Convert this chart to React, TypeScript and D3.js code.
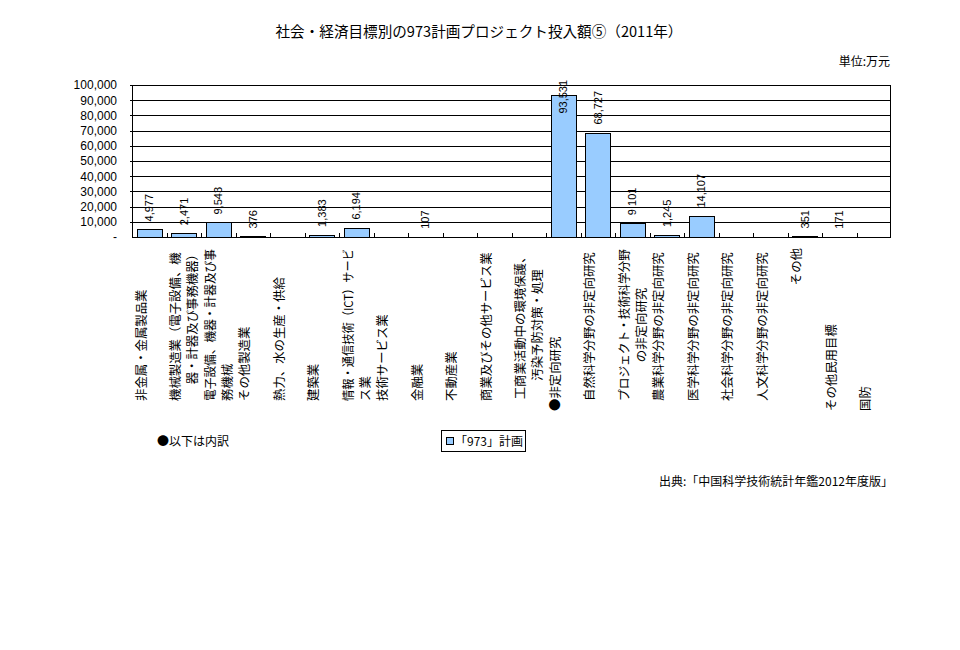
import * as d3 from 'd3';
import React, { useEffect, useRef } from 'react';

const title = '社会・経済目標別の973計画プロジェクト投入額⑤（2011年）';
const unitLabel = '単位:万元';
const sourceLabel = '出典:「中国科学技術統計年鑑2012年度版」';
const noteLabel = '●以下は内訳';
const seriesName = '「973」計画';

// category labels, '\n' = line break in the axis label
const categories = [
  '非金属・金属製品業',
  '機械製造業（電子設備、機\n器・計器及び事務機器）',
  '電子設備、機器・計器及び事\n務機械',
  'その他製造業',
  '熱力、水の生産・供給',
  '建築業',
  '情報・通信技術（ICT）サービ\nス業',
  '技術サービス業',
  '金融業',
  '不動産業',
  '商業及びその他サービス業',
  '工商業活動中の環境保護、\n汚染予防対策・処理',
  '●非定向研究',
  '自然科学分野の非定向研究',
  'プロジェクト・技術科学分野\nの非定向研究',
  '農業科学分野の非定向研究',
  '医学科学分野の非定向研究',
  '社会科学分野の非定向研究',
  '人文科学分野の非定向研究',
  'その他',
  'その他民用目標',
  '国防',
];

// 万元, null = no bar
const values: (number | null)[] = [
  4977, 2471, 9543, 376, null, 1383, 6194, null, 107, null, null, null,
  93531, 68727, 9101, 1245, 14107, null, null, 351, 171, null,
];

const yTicks = [0, 10000, 20000, 30000, 40000, 50000, 60000, 70000, 80000, 90000, 100000];

// how each label line sits along the vertical axis: s = from bottom, S = from lower bottom, e = to top, m = middle
const labelAlign = [
  ['s'], ['s', 'e'], ['s', 's'], ['s'], ['s'], ['s'], ['s', 's'], ['s'], ['s'], ['s'], ['s'],
  ['m', 'm'], ['S'], ['s'], ['m', 'm'], ['s'], ['s'], ['s'], ['s'], ['e'], ['S'], ['S'],
];

const JP = '"Noto Sans CJK JP", sans-serif';
const NUM = '"Liberation Sans", Arial, sans-serif';

const App: React.FC = () => {
  const svgRef = useRef(null);

  useEffect(() => {
    const svg = d3.select(svgRef.current);
    svg.selectAll('*').remove();

    const left = 132;
    const right = 891;
    const top = 85;
    const bottom = 237;

    const x = d3
      .scaleBand<number>()
      .domain(d3.range(categories.length))
      .range([left, right])
      .paddingInner(0.27)
      .paddingOuter(0.135);
    const step = (right - left) / categories.length;

    const y = d3.scaleLinear().domain([0, 100000]).range([bottom, top]);

    svg
      .append('rect')
      .attr('width', 960)
      .attr('height', 650)
      .attr('fill', '#fff');

    // title + unit
    svg
      .append('text')
      .attr('x', 479)
      .attr('y', 37)
      .attr('text-anchor', 'middle')
      .attr('font-family', JP)
      .attr('font-size', 14.6)
      .text(title);

    svg
      .append('text')
      .attr('x', 890)
      .attr('y', 66)
      .attr('text-anchor', 'end')
      .attr('font-family', JP)
      .attr('font-size', 12)
      .text(unitLabel);

    // gridlines
    svg
      .append('g')
      .selectAll('line')
      .data(yTicks.filter((t) => t > 0))
      .enter()
      .append('line')
      .attr('x1', left - 2)
      .attr('x2', right)
      .attr('y1', (d) => Math.round(y(d)) + 0.5)
      .attr('y2', (d) => Math.round(y(d)) + 0.5)
      .attr('stroke', '#000')
      .attr('stroke-width', 1);

    // y tick labels
    const fmt = d3.format(',');
    svg
      .append('g')
      .selectAll('text')
      .data(yTicks)
      .enter()
      .append('text')
      .attr('x', 117)
      .attr('y', (d) => y(d))
      .attr('dy', '0.36em')
      .attr('text-anchor', 'end')
      .attr('font-family', NUM)
      .attr('font-size', 12)
      .text((d) => (d === 0 ? '-' : fmt(d)));

    // plot frame
    svg
      .append('rect')
      .attr('x', left + 0.5)
      .attr('y', top + 0.5)
      .attr('width', right - left - 1)
      .attr('height', bottom - top)
      .attr('fill', 'none')
      .attr('stroke', '#000');

    // x ticks (inside)
    svg
      .append('g')
      .selectAll('line')
      .data(d3.range(1, categories.length))
      .enter()
      .append('line')
      .attr('x1', (i) => Math.round(left + step * i) + 0.5)
      .attr('x2', (i) => Math.round(left + step * i) + 0.5)
      .attr('y1', bottom + 0.5)
      .attr('y2', bottom - 4)
      .attr('stroke', '#000');

    const barData = values
      .map((v, i) => ({ i, v }))
      .filter((d) => d.v !== null) as { i: number; v: number }[];

    // bars
    svg
      .append('g')
      .selectAll('rect')
      .data(barData)
      .enter()
      .append('rect')
      .attr('x', (d) => Math.round(x(d.i)!) + 0.5)
      .attr('y', (d) => Math.round(y(d.v)) + 0.5)
      .attr('width', Math.round(x.bandwidth()))
      .attr('height', (d) => Math.max(0, bottom - Math.round(y(d.v))))
      .attr('fill', '#99CCFF')
      .attr('stroke', '#000')
      .attr('stroke-width', 1);

    // value labels, rotated
    svg
      .append('g')
      .selectAll('text')
      .data(barData)
      .enter()
      .append('text')
      .attr('transform', (d) => {
        const label = fmt(d.v);
        const len = label.length * 5.6;
        const yy = Math.max(y(d.v) - 8, 80 + len);
        return `translate(${x(d.i)! + x.bandwidth() / 2},${yy}) rotate(-90)`;
      })
      .attr('dominant-baseline', 'central')
      .attr('font-family', NUM)
      .attr('font-size', 11)
      .text((d) => fmt(d.v));

    // category labels, rotated; long lines squeezed to fit under the axis
    const maxLen = 152;
    const catG = svg.append('g').attr('font-family', JP).attr('font-size', 12.4);
    categories.forEach((c, i) => {
      const lines = c.split('\n');
      const cx = left + step * (i + 0.5);
      lines.forEach((line, j) => {
        const a = labelAlign[i][j];
        let yy = 401;
        let anchor = 'start';
        if (a === 'S') yy = 411;
        if (a === 'e') {
          yy = 248;
          anchor = 'end';
        }
        if (a === 'm') {
          yy = 325;
          anchor = 'middle';
        }
        const t = catG
          .append('text')
          .attr('transform', `translate(${cx - 8.5 + 17 * j},${yy}) rotate(-90)`)
          .attr('text-anchor', anchor)
          .attr('dominant-baseline', 'central')
          .text(line);
        const node = t.node() as SVGTextElement | null;
        if (node && node.getComputedTextLength() > maxLen) {
          t.attr('textLength', maxLen).attr('lengthAdjust', 'spacingAndGlyphs');
        }
      });
    });

    // note
    svg
      .append('text')
      .attr('x', 157)
      .attr('y', 446)
      .attr('font-family', JP)
      .attr('font-size', 12)
      .text(noteLabel);

    // legend
    const lg = svg.append('g');
    lg.append('rect')
      .attr('x', 441.5)
      .attr('y', 430.5)
      .attr('width', 84)
      .attr('height', 21)
      .attr('fill', '#fff')
      .attr('stroke', '#000');
    lg.append('rect')
      .attr('x', 446.5)
      .attr('y', 437.5)
      .attr('width', 7)
      .attr('height', 7)
      .attr('fill', '#99CCFF')
      .attr('stroke', '#000');
    lg.append('text')
      .attr('x', 455)
      .attr('y', 446)
      .attr('font-family', JP)
      .attr('font-size', 12)
      .text(seriesName);

    // source
    svg
      .append('text')
      .attr('x', 893)
      .attr('y', 486)
      .attr('text-anchor', 'end')
      .attr('font-family', JP)
      .attr('font-size', 12)
      .text(sourceLabel);
  }, []);

  return (
    <svg
      ref={svgRef}
      width={960}
      height={650}
      style={{ position: 'absolute', left: 0, top: 0 }}
    />
  );
};

export default App;
